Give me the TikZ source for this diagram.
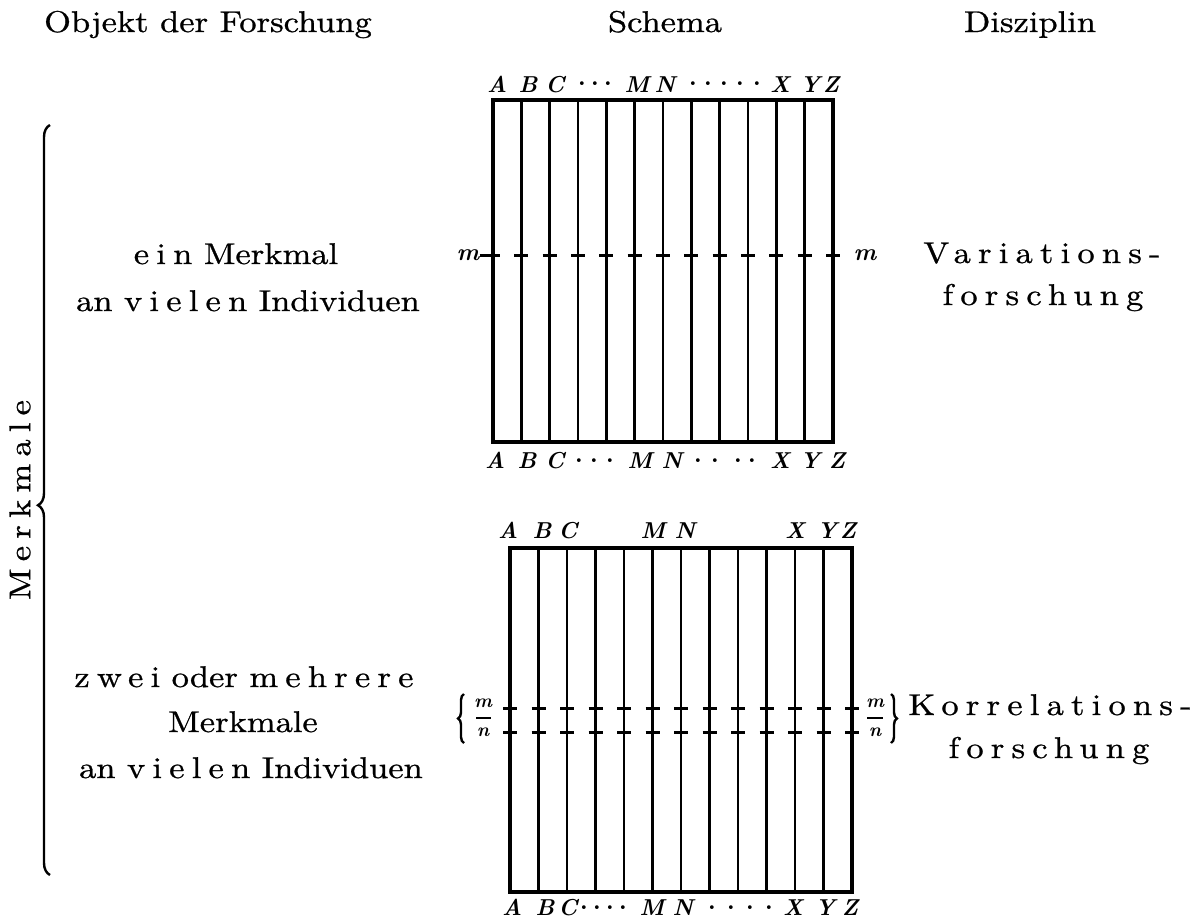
\documentclass[tikz,border=0pt]{standalone}
\usepackage{fontspec}
\setmainfont{lmroman10}[Extension=.otf, UprightFont=*-regular, BoldFont=*-bold, ItalicFont=*-italic, BoldItalicFont=*-bolditalic, FakeStretch=1.15, FakeBold=0.8]
\newfontfamily\labfam{lmroman10-bolditalic.otf}
\newfontfamily\dotfam{lmroman10-bold.otf}
\usetikzlibrary{decorations.pathreplacing}
\newcommand\sperr[1]{{\addfontfeature{LetterSpace=24}#1}}
\newcommand\bodyfont{\fontsize{30}{36}\selectfont}
\newcommand\labfont{\labfam\fontsize{23}{26}\selectfont}
\tikzset{
  txt/.style={font=\bodyfont, inner sep=0pt, anchor=base},
  lab/.style={font=\labfont, inner sep=0pt, anchor=base},
  dotlab/.style={font=\dotfam\fontsize{24}{24}\selectfont, inner sep=0pt, anchor=center},
  mlab/.style={font=\labfam\fontsize{24}{26}\selectfont, inner sep=0pt, anchor=center},
  fraclab/.style={font=\labfam\fontsize{19}{20}\selectfont, inner sep=0pt, anchor=center},
  outer/.style={line width=3.2pt},
  inner/.style={line width=2.8pt},
  tick/.style={line width=3pt},
  fracrule/.style={line width=1.2pt},
  bigbrace/.style={decorate, decoration={brace, amplitude=12pt, aspect=0.493}, line width=2.4pt},
  smallbrace/.style={decorate, decoration={brace, amplitude=6pt}, line width=2.4pt},
}
\begin{document}
\begin{tikzpicture}[x=1pt,y=-1pt]
\useasboundingbox[fill=white] (0,0) rectangle (1200,924);
% headers
\node[txt] (h1) at (208,32) {Objekt der Forschung};
\node[txt] (h2) at (665,32) {Schema};
\node[txt] (h3) at (1030,32) {Disziplin};
% left texts
\node[txt] (t1) at (236,264) {\sperr{ein} Merkmal};
\node[txt] (t2) at (248,311) {an \sperr{vielen} Individuen};
\node[txt] (t3) at (244,687) {\sperr{zwei} oder \sperr{mehrere}};
\node[txt] (t4) at (243,732) {Merkmale};
\node[txt] (t5) at (251,778) {an \sperr{vielen} Individuen};
% right texts
\node[txt] (r1) at (1042,263) {\sperr{Variations-}};
\node[txt] (r2) at (1043,305) {\sperr{forschung}};
\node[txt] (r3) at (1050,715) {\sperr{Korrelations-}};
\node[txt] (r4) at (1049,758) {\sperr{forschung}};
% vertical label and big brace
\node[txt, anchor=center, rotate=90] (vm) at (20,500) {\sperr{Merkmale}};
\coordinate (bb) at (50,875);
\coordinate (bt) at (50,125);
\draw[bigbrace] (bb) -- (bt);
% top grid
\draw[outer] (493,100) rectangle (833,442);
\foreach \i in {1,...,11} \draw[inner] ({493+\i*28.333},100) -- ({493+\i*28.333},442);
\node[mlab] (mL) at (468,255) {m};
\node[mlab] (mR) at (865,255) {m};
\draw[tick] (mL.east) -- (500,255);
\foreach \i in {1,...,12} \draw[tick] ({493+\i*28.333-7},255) -- ++(14,0);
% top grid labels
\foreach \n/\x in {A/497,B/528,C/555,M/637,N/665,X/780,Y/810,Z/831}
  \node[lab] (ta\n) at (\x,92) {\n};
\foreach \x [count=\k] in {582,595,608,693,708,724,740,757}
  \node[dotlab] (tad\k) at (\x,84) {.};
\foreach \n/\x in {A/495,B/527,C/555,M/640,N/672,X/780,Y/810,Z/837}
  \node[lab] (tb\n) at (\x,468) {\n};
\foreach \x [count=\k] in {579,594,610,698,715,738,752}
  \node[dotlab] (tbd\k) at (\x,461) {.};
% bottom grid
\draw[outer] (510,548) rectangle (852,892);
\foreach \i in {1,...,11} \draw[inner] ({510+\i*28.5},548) -- ({510+\i*28.5},892);
\foreach \i in {0,...,12} {
  \draw[tick] ({510+\i*28.5-7},708) -- ++(14,0);
  \draw[tick] ({510+\i*28.5-7},732) -- ++(14,0);
}
\foreach \n/\x in {A/508,B/542,C/568,M/653,N/685,X/795,Y/827,Z/848}
  \node[lab] (ba\n) at (\x,538) {\n};
\foreach \n/\x in {A/512,B/545,C/568,M/652,N/683,X/793,Y/825,Z/850}
  \node[lab] (bb\n) at (\x,915) {\n};
\foreach \x [count=\k] in {584,597,610,623,712,731,750,769}
  \node[dotlab] (bbd\k) at (\x,908) {.};
% fractions and braces
\node[fraclab] (fLm) at (483,703) {m};
\node[fraclab] (fLn) at (483,732) {n};
\draw[fracrule] (476,718) -- (491,718);
\node[fraclab] (fRm) at (875,703) {m};
\node[fraclab] (fRn) at (875,732) {n};
\draw[fracrule] (867,718) -- (883,718);
\coordinate (lbb) at (464,743);
\coordinate (lbt) at (464,694);
\draw[smallbrace] (lbb) -- (lbt);
\coordinate (rbt) at (891,694);
\coordinate (rbb) at (891,743);
\draw[smallbrace] (rbt) -- (rbb);
\end{tikzpicture}
\end{document}
